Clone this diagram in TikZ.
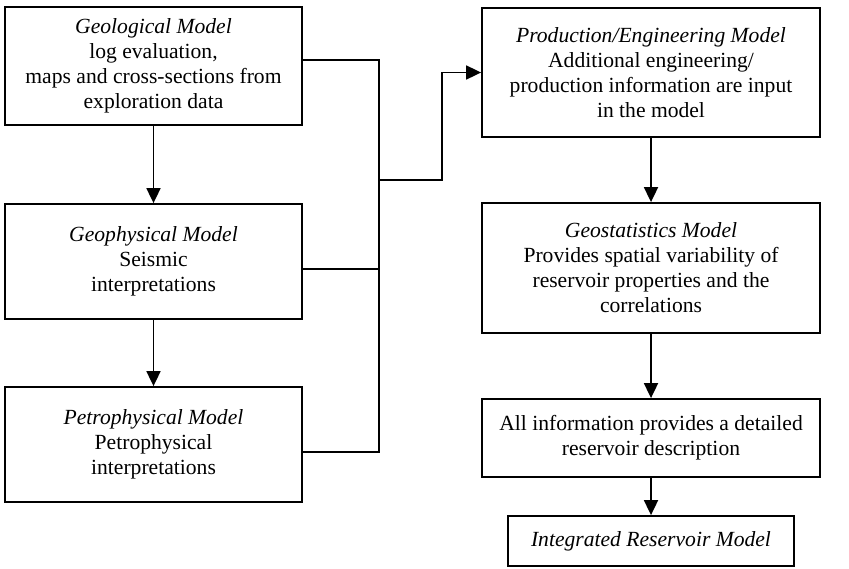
\documentclass[tikz,border=0pt]{standalone}
\usepackage{fontspec}
\setmainfont{Liberation Serif}
\usetikzlibrary{arrows.meta, positioning, calc}

\tikzset{
	modelbox/.style={draw, line width=0.9pt, align=center, inner sep=2pt,
		font=\fontsize{10.8}{12.5}\selectfont},
	flow/.style={line width=0.9pt, -{Triangle[length=7.5pt,width=7pt]}},
	link/.style={line width=0.9pt}
}

\begin{document}
\begin{tikzpicture}[x=0.5pt,y=-0.5pt]
	\useasboundingbox (0,0) rectangle (849,568);
	% left column
	\node[modelbox, minimum width=148.5pt, minimum height=59pt] (geo) at (153.5,66)
		{\textit{Geological Model}\\ log evaluation,\\ maps and cross-sections from\\ exploration data};
	\node[modelbox, minimum width=148.5pt, minimum height=57.5pt] (geoph) at (153.5,261.5)
		{\textit{Geophysical Model}\\ Seismic\\ interpretations};
	\node[modelbox, minimum width=148.5pt, minimum height=57.5pt] (petro) at (153.5,444.5)
		{\textit{Petrophysical Model}\\ Petrophysical\\ interpretations};
	% right column
	\node[modelbox, minimum width=169pt, minimum height=64.5pt] (prod) at (651,72.5)
		{\textit{Production/Engineering Model}\\ Additional engineering/\\ production information are input\\ in the model};
	\node[modelbox, minimum width=169pt, minimum height=65pt] (geostat) at (651,268)
		{\textit{Geostatistics Model}\\ Provides spatial variability of\\ reservoir properties and the\\ correlations};
	\node[modelbox, minimum width=169pt, minimum height=39pt] (allinfo) at (651,438)
		{All information provides a detailed\\ reservoir description};
	\node[modelbox, minimum width=143pt, minimum height=25pt] (integ) at (651,541)
		{\textit{Integrated Reservoir Model}};

	% collecting line
	\coordinate (geoOut) at ([yshift=3pt]geo.east);
	\coordinate (geophOut) at ([yshift=-3.75pt]geoph.east);
	\coordinate (petroOut) at ([yshift=-3.75pt]petro.east);
	\coordinate (busTop) at (379,60);
	\coordinate (busJoin) at (379,180);
	\coordinate (riser) at (442,180);
	\draw[link] (geoOut) -- (busTop) -- (busTop |- petroOut) -- (petroOut);
	\draw[link] (geophOut) -- (geophOut -| busTop);
	\draw[flow] (busJoin) -- (riser) |- (prod.west);

	% arrows down
	\draw[flow] (geo) -- (geoph);
	\draw[flow] (geoph) -- (petro);
	\draw[flow] (prod) -- (geostat);
	\draw[flow] (geostat) -- (allinfo);
	\draw[flow] (allinfo) -- (integ);
\end{tikzpicture}
\end{document}
